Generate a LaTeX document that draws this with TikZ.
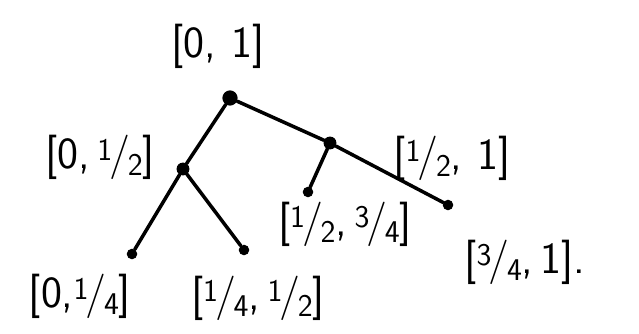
\documentclass[tikz,border=0pt]{standalone}
\usepackage{tikz}
\usetikzlibrary{positioning}

% small slanted fraction, as written by hand
\newcommand{\hfr}[2]{\raisebox{0.4ex}{\fontsize{27}{29}\selectfont #1}\kern-0.06em/\kern-0.06em\raisebox{-0.4ex}{\fontsize{27}{29}\selectfont #2}}

\begin{document}
\begin{tikzpicture}[x=0.03cm, y=-0.03cm, font=\sffamily\fontsize{38}{42}\selectfont,
  dot/.style={circle, fill, inner sep=0pt, minimum size=#1},
  lbl/.style={inner sep=0pt},
  edge/.style={line width=3pt, line cap=round}]
\useasboundingbox (0,0) rectangle (639,333);
% tree nodes
\node[dot=13pt] (root) at (230,98) {};
\node[dot=11pt] (lc) at (183,169) {};
\node[dot=11pt] (rc) at (330,143) {};
\node[dot=9pt] (ll) at (132,254) {};
\node[dot=9pt] (lr) at (244,250) {};
\node[dot=9pt] (rl) at (308,192) {};
\node[dot=9pt] (rr) at (448,205) {};
% edges
\draw[edge] (root) -- (lc);
\draw[edge] (root) -- (rc);
\draw[edge] (lc) -- (ll);
\draw[edge] (lc) -- (lr);
\draw[edge] (rc) -- (rl);
\draw[edge] (rc) -- (rr);
% interval labels
\node[lbl] (l01) at (218,46) {[0,\,\,1]};
\node[lbl] (l0h) at (100,157) {[0,\,\hfr{1}{2}]};
\node[lbl] (lh1) at (452,158) {[\hfr{1}{2},\,\,1]};
\node[lbl] (lhq) at (345,224) {[\hfr{1}{2},\,\hfr{3}{4}]};
\node[lbl] (lq1) at (525,262) {[\hfr{3}{4},\,1].};
\node[lbl] (l0q) at (80,296) {[0,\hfr{1}{4}]};
\node[lbl] (lqh) at (258,298) {[\hfr{1}{4},\,\hfr{1}{2}]};
\end{tikzpicture}
\end{document}
